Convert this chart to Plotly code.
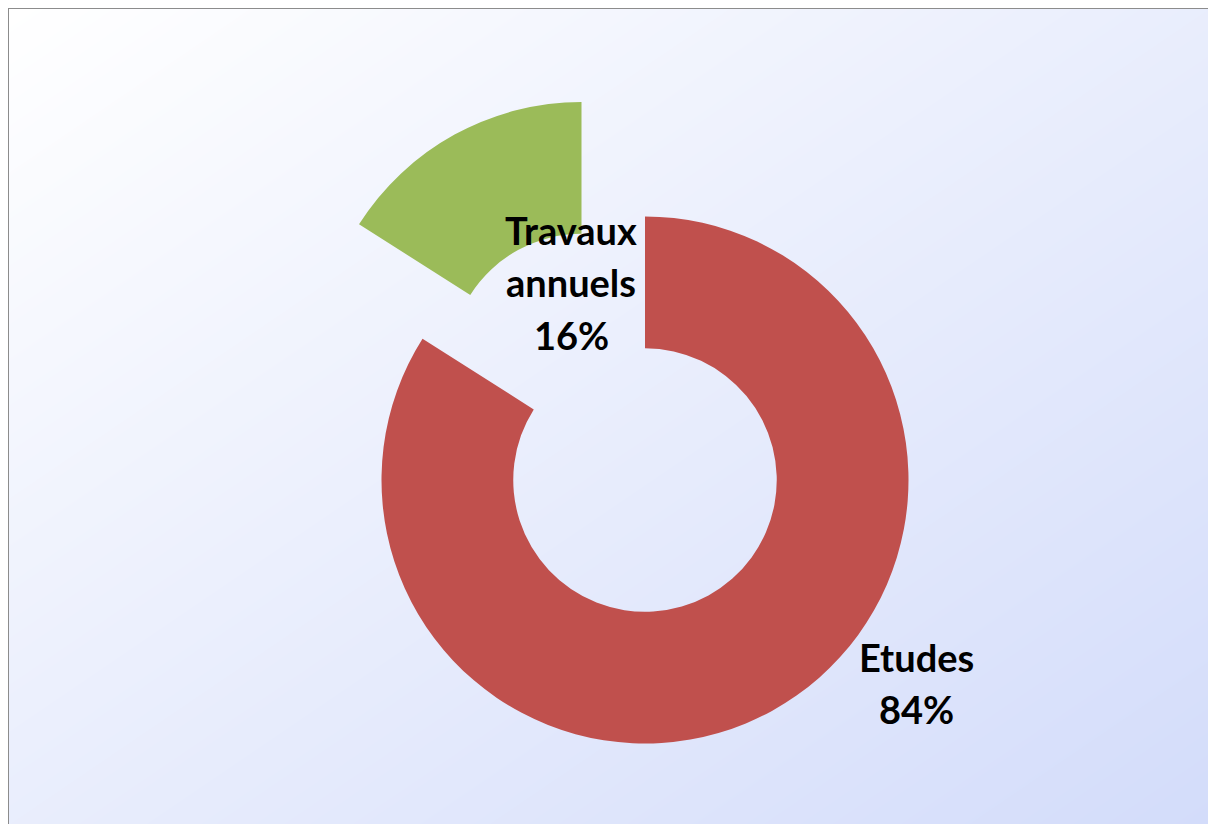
import plotly.graph_objects as go

# données du graphique
labels = ["Etudes", "Travaux annuels"]
values = [84, 16]
colors = ["#C0504D", "#9BBB59"]

# la page html ajoute 8 px de marge autour de la figure
OFF = 8
W, H = 1216 - 2 * OFF, 832 - 2 * OFF
ML, MT = 1, 1          # le cadre gris commence là
PW, PH = W - ML, H - MT

R = 263.5              # rayon extérieur en px


def px_to_paper(x, y):
    # coordonnées écran -> fraction de la zone de tracé
    return (x - OFF - ML) / PW, 1 - (y - OFF - MT) / PH


def pie_domain(cx, cy):
    # domaine pour un camembert centré en (cx, cy) px à l'écran
    xc, yc = px_to_paper(cx, cy)
    return dict(x=[xc - R / PW, xc + R / PW], y=[yc - R / PH, yc + R / PH])


fig = go.Figure()

# fond en dégradé diagonal (blanc en haut à gauche -> bleu clair en bas à droite)
fig.add_trace(go.Heatmap(x=[0, 1], y=[0, 1], z=[[0, 0.5], [0.5, 1]],
                         zsmooth="best", showscale=False, hoverinfo="skip",
                         colorscale=[[0, "#FFFFFF"], [1, "#D3DCFA"]]))

total = sum(values)
pct = [f"{round(v * 100 / total)}%" for v in values]

# anneau principal : seule la part "Etudes" est visible
fig.add_trace(go.Pie(labels=labels, values=values, hole=0.5, sort=False,
                     direction="clockwise", rotation=0, textinfo="none",
                     marker=dict(colors=[colors[0], "rgba(0,0,0,0)"], line=dict(width=0)),
                     domain=pie_domain(645, 480), showlegend=False))

# part "Travaux annuels" détachée vers le haut-gauche
fig.add_trace(go.Pie(labels=labels, values=values, hole=0.5, sort=False,
                     direction="clockwise", rotation=0, textinfo="none",
                     marker=dict(colors=["rgba(0,0,0,0)", colors[1]], line=dict(width=0)),
                     domain=pie_domain(581.5, 365.5), showlegend=False))

# étiquettes, une ligne par annotation
lab_lines = [labels[0].split(" ") + [pct[0]], labels[1].split(" ") + [pct[1]]]
lab_pos = [(916, [657, 709]), (571, [230, 282, 335])]
for lines, (x, ys) in zip(lab_lines, lab_pos):
    for txt, y in zip(lines, ys):
        ax, ay = px_to_paper(x, y)
        fig.add_annotation(x=ax, y=ay, xref="paper", yref="paper",
                           text=f"<b>{txt}</b>", showarrow=False,
                           xanchor="center", yanchor="middle",
                           font=dict(family="Lato", size=38, color="black"))

fig.update_xaxes(range=[0, 1], showgrid=False, zeroline=False, showticklabels=False,
                 ticks="", showline=True, linecolor="#8C8C8C", linewidth=2, side="top")
fig.update_yaxes(range=[1, 0], showgrid=False, zeroline=False, showticklabels=False,
                 ticks="", showline=True, linecolor="#8C8C8C", linewidth=2)

fig.update_layout(width=W, height=H, paper_bgcolor="white", plot_bgcolor="white",
                  margin=dict(l=ML, t=MT, r=0, b=0), showlegend=False)

fig.write_html("out.html")
